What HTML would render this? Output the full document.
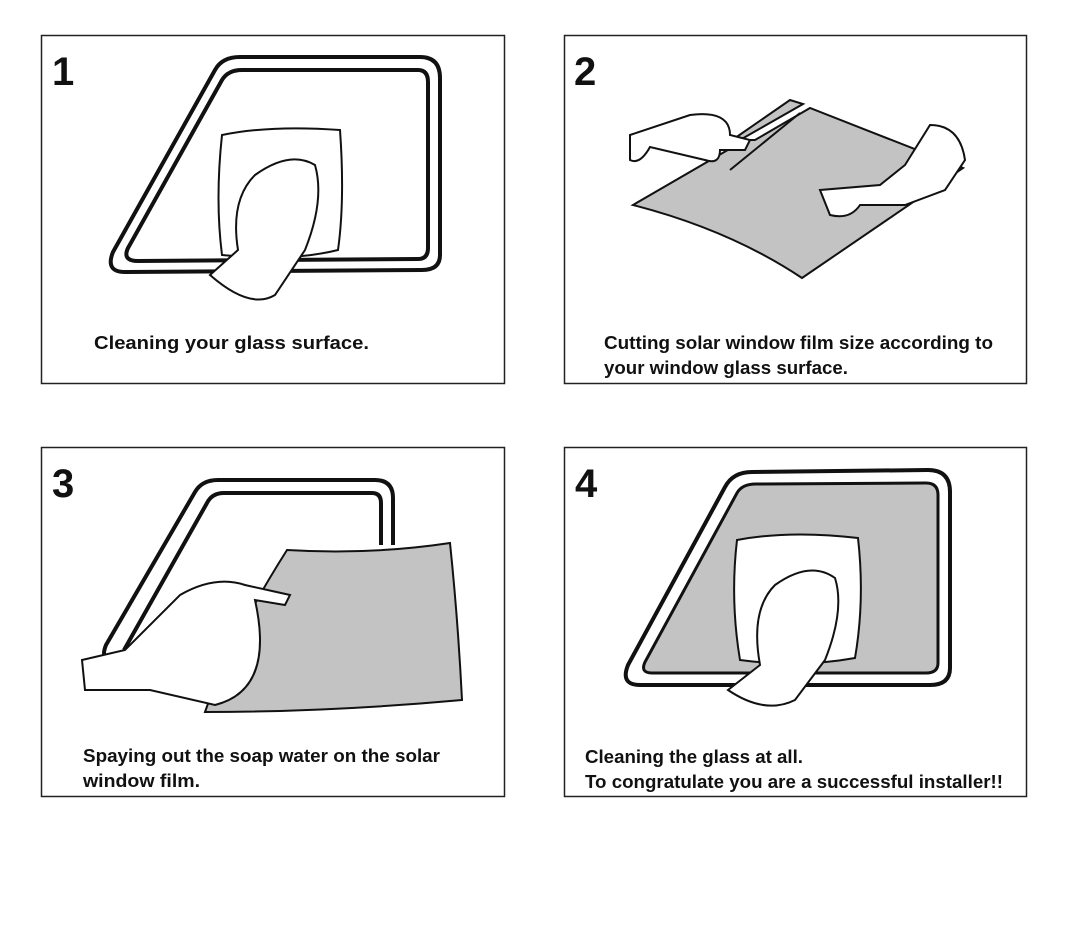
<!DOCTYPE html>
<html><head><meta charset="utf-8"><style>
html,body{margin:0;padding:0;background:#fff;width:1067px;height:933px;overflow:hidden}
svg{display:block}
text{font-family:"Liberation Sans",sans-serif;font-weight:bold;fill:#111}
</style></head><body>
<svg width="1067" height="933" viewBox="0 0 1067 933" xmlns="http://www.w3.org/2000/svg">
<g fill="none" stroke="#222" stroke-width="1.5">
<rect x="41.5" y="35.5" width="463" height="348"/>
<rect x="564.5" y="35.5" width="462" height="348"/>
<rect x="41.5" y="447.5" width="463" height="349"/>
<rect x="564.5" y="447.5" width="462" height="349"/>
</g>
<text x="52" y="85" font-size="40">1</text>
<text x="574" y="85" font-size="40">2</text>
<text x="52" y="497" font-size="40">3</text>
<text x="575" y="497" font-size="40">4</text>
<g font-size="18.5" lengthAdjust="spacingAndGlyphs">
<text x="94" y="349" textLength="275" lengthAdjust="spacingAndGlyphs">Cleaning your glass surface.</text>
<text x="604" y="349" textLength="389" lengthAdjust="spacingAndGlyphs">Cutting solar window film size according to</text>
<text x="604" y="374" textLength="244" lengthAdjust="spacingAndGlyphs">your window glass surface.</text>
<text x="83" y="762" textLength="357" lengthAdjust="spacingAndGlyphs">Spaying out the soap water on the solar</text>
<text x="83" y="787" textLength="117" lengthAdjust="spacingAndGlyphs">window film.</text>
<text x="585" y="763" textLength="218" lengthAdjust="spacingAndGlyphs">Cleaning the glass at all.</text>
<text x="585" y="788" textLength="418" lengthAdjust="spacingAndGlyphs">To congratulate you are a successful installer!!</text>
</g>

<!-- panel1 window -->
<g fill="none" stroke="#111" stroke-width="4" stroke-linejoin="round">
<path d="M125 272 Q105 272 113 252 L215 70 Q222 57 240 57 L420 57 Q440 57 440 78 L440 255 Q440 270 422 270 Z"/>
<path d="M138 261 Q122 261 128 248 L222 80 Q228 70 242 70 L418 70 Q428 70 428 82 L428 248 Q428 259 418 259 Z"/>
</g>
<g fill="#fff" stroke="#111" stroke-width="2">
<path d="M222 135 Q270 125 340 130 Q345 200 338 250 Q290 262 222 255 Q215 200 222 135Z"/>
<path d="M210 275 L238 250 Q230 200 255 175 Q290 150 315 165 Q325 200 305 250 L275 295 Q250 310 210 275Z"/>
</g>

<!-- panel2 -->
<path d="M633 205 L745 140 L755 140 L810 108 L963 168 L802 278 Q730 230 633 205Z" fill="#c3c3c3" stroke="#111" stroke-width="2"/>
<path d="M725 145 L790 100 L803 104 L740 140Z" fill="#c3c3c3" stroke="#111" stroke-width="2"/>
<line x1="730" y1="170" x2="800" y2="113" stroke="#111" stroke-width="2"/>
<g fill="#fff" stroke="#111" stroke-width="2">
<path d="M630 135 L690 115 Q730 110 730 135 L750 140 L745 150 L720 150 Q720 165 705 160 L650 147 Q640 165 630 160Z"/>
<path d="M820 190 L880 185 L905 165 L930 125 Q960 125 965 160 L945 190 L905 205 L860 205 Q850 220 830 215Z"/>
</g>

<!-- panel3 -->
<g fill="none" stroke="#111" stroke-width="4" stroke-linejoin="round">
<path d="M112 660 Q100 660 106 645 L195 492 Q202 480 218 480 L375 480 Q393 480 393 498 L393 545"/>
<path d="M124 650 L207 503 Q212 493 224 493 L372 493 Q381 493 381 503 L381 545"/>
</g>
<path d="M287 550 Q370 555 450 543 Q458 620 462 700 Q330 712 205 712 Q230 640 287 550Z" fill="#c3c3c3" stroke="#111" stroke-width="2"/>
<g fill="#fff" stroke="#111" stroke-width="2">
<path d="M82 660 L125 650 L180 595 Q215 575 245 585 L290 595 L285 605 L255 600 Q275 690 215 705 L150 690 L125 690 L85 690Z"/>
</g>

<!-- panel4 -->
<path d="M640 685 Q620 685 628 665 L725 487 Q733 472 752 472 L928 470 Q950 470 950 492 L950 668 Q950 685 930 685 Z" fill="#fff" stroke="#111" stroke-width="4"/>
<path d="M652 673 Q640 673 645 662 L737 493 Q742 484 756 484 L926 483 Q938 483 938 495 L938 663 Q938 673 926 673 Z" fill="#c3c3c3" stroke="#111" stroke-width="3"/>
<g fill="#fff" stroke="#111" stroke-width="2">
<path d="M737 540 Q790 530 858 538 Q865 600 855 658 Q800 668 740 660 Q730 600 737 540Z"/>
<path d="M728 690 L760 665 Q750 610 775 585 Q810 560 835 578 Q845 610 825 660 L795 700 Q765 715 728 690Z"/>
</g>
</svg>
</body></html>
